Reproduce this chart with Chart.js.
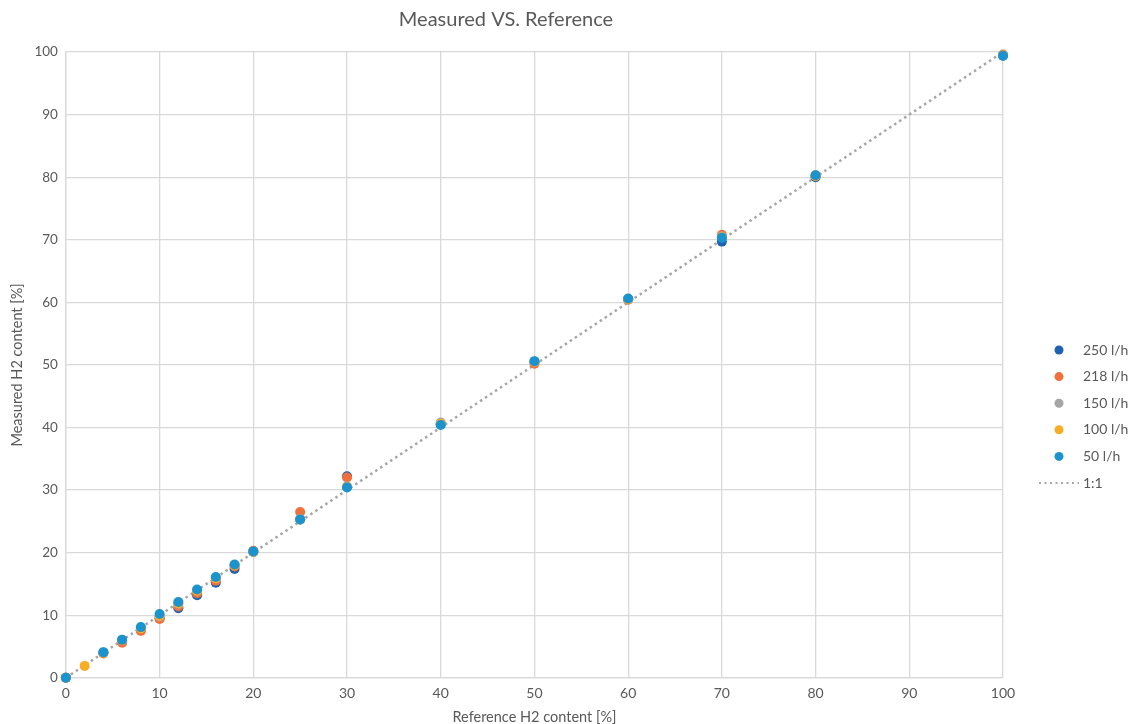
<!DOCTYPE html>
<html>
<head>
<meta charset="utf-8">
<title>Measured VS. Reference</title>
<script src="https://cdn.jsdelivr.net/npm/chart.js@4"></script>
<style>
    html, body { margin: 0; padding: 0; background: #ffffff; }
    #wrap { width: 1128px; height: 724px; position: relative; }
</style>
</head>
<body>
<div id="wrap"><canvas id="scatterChart"></canvas></div>
<script>
    // --- DADOS ---
    const refX = [0, 4, 6, 8, 10, 12, 14, 16, 18, 20, 25, 30, 40, 50, 60, 70, 80, 100];
    const refX100 = [0, 2, 4, 6, 8, 10, 12, 14, 16, 18, 20, 25, 30, 40, 50, 60, 70, 80, 100];

    const meas250 = [0, 4.0, 5.8, 7.6, 9.5, 11.1, 13.2, 15.2, 17.4, 20.1, 25.3, 32.2, 40.5, 50.5, 60.5, 69.7, 80.0, 99.4];
    const meas218 = [0, 3.9, 5.6, 7.5, 9.4, 11.4, 13.5, 15.5, 17.8, 20.3, 26.5, 32.0, 40.6, 50.2, 60.4, 70.8, 80.2, 99.6];
    const meas150 = [0, 4.0, 6.0, 7.9, 9.8, 11.8, 13.9, 15.9, 18.0, 20.2, 25.4, 30.6, 40.8, 50.5, 60.5, 70.5, 80.3, 99.5];
    const meas100 = [0, 1.9, 4.0, 6.0, 7.9, 9.9, 11.9, 13.9, 15.9, 18.0, 20.1, 25.3, 30.5, 40.6, 50.5, 60.5, 70.4, 80.2, 99.5];
    const meas50 = [0, 4.1, 6.1, 8.1, 10.2, 12.1, 14.1, 16.1, 18.1, 20.2, 25.3, 30.4, 40.4, 50.6, 60.6, 70.3, 80.3, 99.4];

    const lineX = [0, 100];
    const lineY = [0, 100];

    const seriesNames = ['250 l/h', '218 l/h', '150 l/h', '100 l/h', '50 l/h', '1:1'];
    const seriesColors = ['#1f62b2', '#f0703c', '#a5a5a5', '#f8ad26', '#1b93cf', '#a6a6a6'];

    const axisTicks = [0, 10, 20, 30, 40, 50, 60, 70, 80, 90, 100];

    const FONT = 'Lato, "Open Sans", sans-serif';
    const TEXT = '#595959';

    function toPoints(xs, ys) {
        return xs.map((x, i) => ({ x: x, y: ys[i] }));
    }

    function pointSet(idx, xs, ys) {
        return {
            label: seriesNames[idx],
            data: toPoints(xs, ys),
            showLine: false,
            clip: false,
            backgroundColor: seriesColors[idx],
            borderColor: seriesColors[idx],
            pointRadius: 5,
            pointHoverRadius: 5,
            pointBorderWidth: 0,
            order: 5 - idx + 1
        };
    }

    // Legenda lateral desenhada à mão (estilo Excel)
    const sideLegend = {
        id: 'sideLegend',
        afterDraw(chart) {
            const ctx = chart.ctx;
            const cx = chart.chartArea.right + 56;
            const tx = chart.chartArea.right + 80;
            let y = 350;
            ctx.save();
            ctx.font = '14px ' + FONT;
            ctx.textBaseline = 'middle';
            seriesNames.forEach((name, i) => {
                if (i < 5) {
                    ctx.beginPath();
                    ctx.arc(cx, y, 4.5, 0, Math.PI * 2);
                    ctx.fillStyle = seriesColors[i];
                    ctx.fill();
                } else {
                    ctx.beginPath();
                    ctx.setLineDash([2, 3.5]);
                    ctx.lineWidth = 2;
                    ctx.strokeStyle = seriesColors[i];
                    ctx.moveTo(cx - 20, y);
                    ctx.lineTo(cx + 20, y);
                    ctx.stroke();
                    ctx.setLineDash([]);
                }
                ctx.fillStyle = TEXT;
                ctx.fillText(name, tx, y);
                y += 26.6;
            });
            ctx.restore();
        }
    };

    const ctxScatter = document.getElementById('scatterChart').getContext('2d');
    new Chart(ctxScatter, {
        type: 'scatter',
        data: {
            datasets: [
                pointSet(0, refX, meas250),
                pointSet(1, refX, meas218),
                pointSet(2, refX, meas150),
                pointSet(3, refX100, meas100),
                pointSet(4, refX, meas50),
                {
                    label: seriesNames[5],
                    data: toPoints(lineX, lineY),
                    showLine: true,
                    borderColor: seriesColors[5],
                    borderWidth: 2.5,
                    borderDash: [2.5, 3.5],
                    pointRadius: 0,
                    pointHoverRadius: 0,
                    order: 10
                }
            ]
        },
        options: {
            responsive: true,
            maintainAspectRatio: false,
            animation: false,
            layout: { padding: { top: 8, right: 125, left: 9, bottom: -2 } },
            plugins: {
                legend: { display: false },
                tooltip: { enabled: false },
                title: {
                    display: true,
                    text: 'Measured VS. Reference',
                    color: TEXT,
                    font: { family: FONT, size: 20, weight: 'normal' },
                    padding: { top: 0, bottom: 20 }
                }
            },
            scales: {
                x: {
                    type: 'linear',
                    min: 0,
                    max: 100,
                    afterBuildTicks: (axis) => { axis.ticks = axisTicks.map(v => ({ value: v })); },
                    grid: { color: '#d9d9d9', lineWidth: 1.3, drawTicks: false },
                    border: { color: '#d9d9d9', width: 1.3 },
                    ticks: { color: TEXT, padding: 7, font: { family: FONT, size: 14 } },
                    title: {
                        display: true,
                        text: 'Reference H2 content [%]',
                        color: TEXT,
                        font: { family: FONT, size: 14.5 },
                        padding: { top: 0, bottom: 0 }
                    }
                },
                y: {
                    type: 'linear',
                    min: 0,
                    max: 100,
                    afterBuildTicks: (axis) => { axis.ticks = axisTicks.map(v => ({ value: v })); },
                    grid: { color: '#d9d9d9', lineWidth: 1.3, drawTicks: false },
                    border: { color: '#d9d9d9', width: 1.3 },
                    ticks: { color: TEXT, padding: 8, font: { family: FONT, size: 13.5 } },
                    title: {
                        display: true,
                        text: 'Measured H2 content [%]',
                        color: TEXT,
                        font: { family: FONT, size: 14.5 },
                        padding: { top: 0, bottom: 0 }
                    }
                }
            }
        },
        plugins: [sideLegend]
    });
</script>
</body>
</html>
